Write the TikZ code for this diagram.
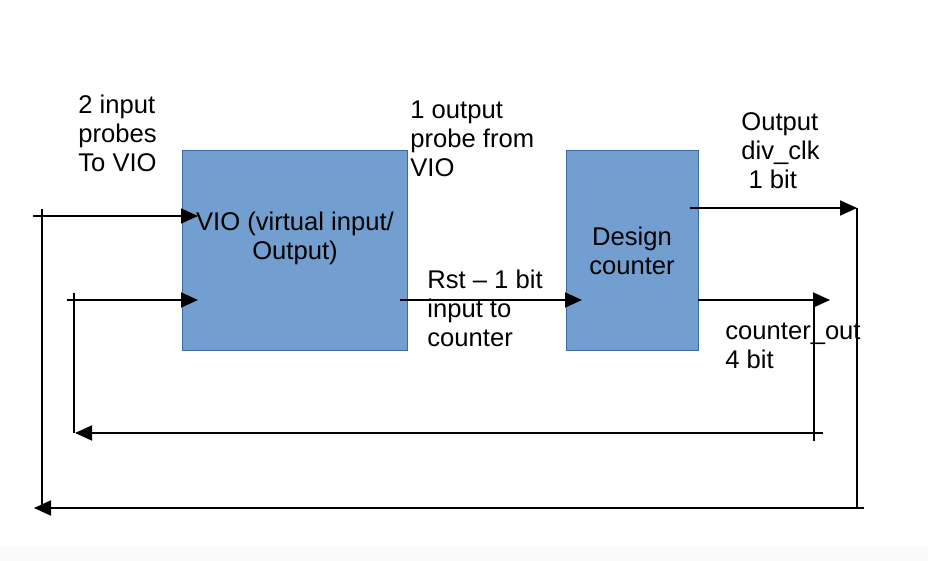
\documentclass[tikz,border=0pt]{standalone}
\usepackage{fontspec}
\setmainfont{Liberation Sans}
\usetikzlibrary{arrows.meta}
\definecolor{blockfill}{RGB}{114,159,207}
\definecolor{blockline}{RGB}{62,104,160}
\tikzset{
  blk/.style={
    rectangle,
    draw=blockline,
    fill=blockfill,
    line width=0.5pt,
    inner sep=0pt,
    align=center,
  },
  lbl/.style={
    align=left,
    inner sep=0pt,
    anchor=north west,
  },
  sig arrow/.style={-{Triangle[length=8.5pt,width=7.5pt]}, line width=0.9pt},
  sig line/.style={line width=0.9pt},
}

\begin{document}
\begin{tikzpicture}[
  x=0.5pt, y=-0.5pt,
  font=\fontsize{12.8}{14.5}\selectfont,
]
  \useasboundingbox[fill=white] (0,0) rectangle (928,561);
  \fill[black!1.5] (0,547) rectangle (928,561);
  % blocks
  \node[blk, minimum width=112.5pt, minimum height=100pt, anchor=north west] (vio) at (182,150) {};
  \node[align=center, inner sep=0pt, anchor=north] (viotext) at (295,212) {VIO (virtual input/\\Output)};
  \node[blk, minimum width=66pt, minimum height=100pt, anchor=north west] (cnt) at (566,150) {};
  \node[align=center, inner sep=0pt, anchor=north] (cnttext) at (632,227) {Design\\counter};
  % labels
  \node[lbl] (probesin) at (78,95) {2 input\\probes\\To VIO};
  \node[lbl] (probeout) at (410,100) {1 output\\probe from\\VIO};
  \node[lbl] (rstlbl) at (427,270) {Rst -- 1 bit\\input to\\counter};
  \node[lbl] (divlbl) at (741,112) {Output\\div\_clk\\\ 1 bit};
  \node[lbl] (cntlbl) at (725,323) {counter\_out\\4 bit};
  % free ends
  \coordinate (in1) at (33,216);
  \coordinate (in1t) at (198,216);
  \coordinate (in2) at (67,300);
  \coordinate (in2t) at (198,300);
  \coordinate (rsts) at (400,300);
  \coordinate (rstt) at (582,300);
  \coordinate (divs) at (690,208);
  \coordinate (divt) at (857,208);
  \coordinate (outs) at (698,300);
  \coordinate (outt) at (830,300);
  \coordinate (fb1a) at (814,300);
  \coordinate (fb1b) at (814,441);
  \coordinate (fb1c) at (823,433);
  \coordinate (fb1d) at (75,433);
  \coordinate (fb1e) at (74,293);
  \coordinate (fb2a) at (857,208);
  \coordinate (fb2b) at (857,508);
  \coordinate (fb2c) at (864,508);
  \coordinate (fb2d) at (34,508);
  \coordinate (fb2e) at (42,209);
  % forward signals
  \draw[sig arrow] (in1) -- (in1t);
  \draw[sig arrow] (in2) -- (in2t);
  \draw[sig arrow] (rsts) -- (rstt);
  \draw[sig arrow] (divs) -- (divt);
  \draw[sig arrow] (outs) -- (outt);
  % feedback
  \draw[sig line] (fb1a) -- (fb1b);
  \draw[sig arrow] (fb1c) -- (fb1d);
  \draw[sig line] (fb1e) -- (fb1e |- fb1c);
  \draw[sig line] (fb2a) -- (fb2b);
  \draw[sig arrow] (fb2c) -- (fb2d);
  \draw[sig line] (fb2e) -- (fb2e |- fb2c);
\end{tikzpicture}
\end{document}
